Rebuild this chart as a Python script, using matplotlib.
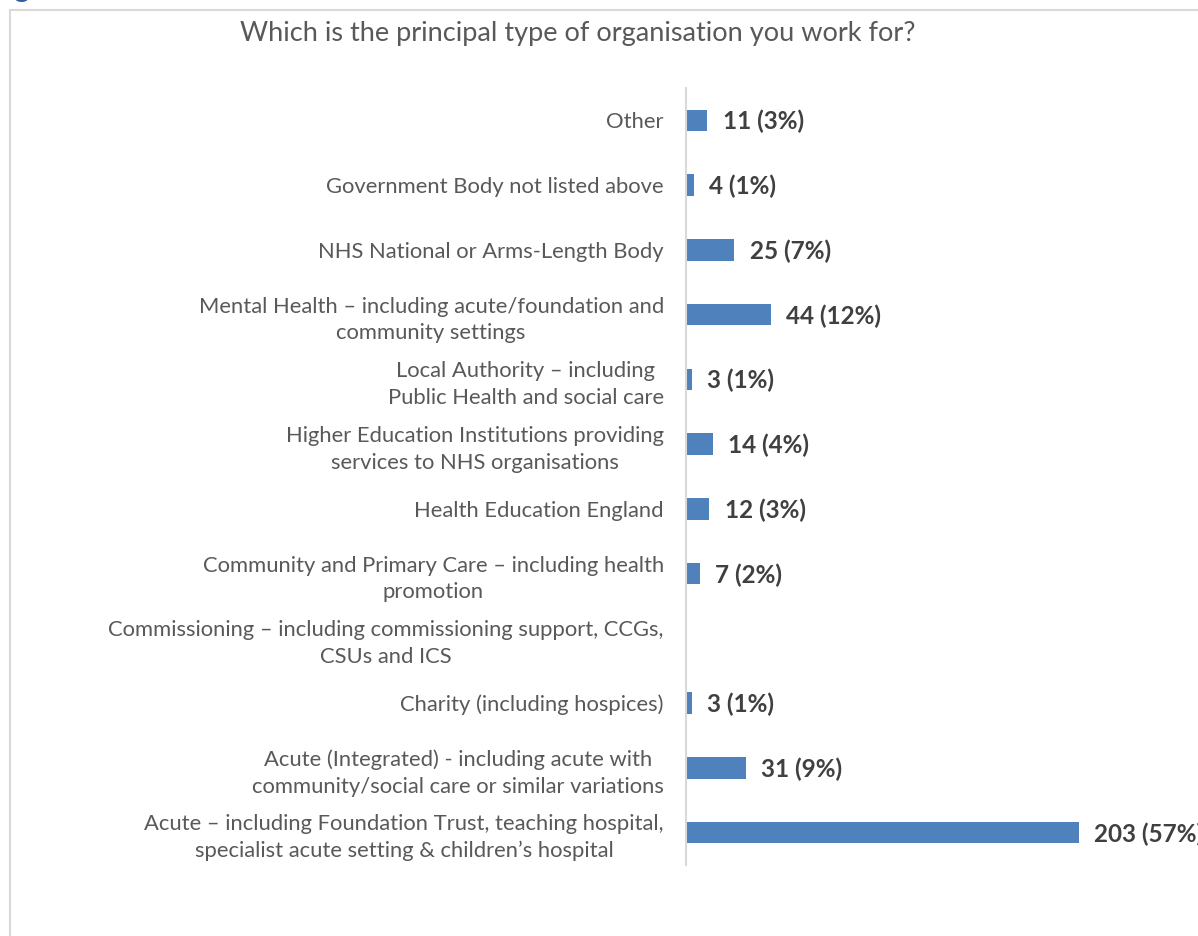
import matplotlib
matplotlib.use("Agg")
import matplotlib.pyplot as plt
from matplotlib.lines import Line2D

categories = [
    "Acute \u2013 including Foundation Trust, teaching hospital,\nspecialist acute setting & children\u2019s hospital",
    "Acute (Integrated) - including acute with\ncommunity/social care or similar variations",
    "Charity (including hospices)",
    "Commissioning \u2013 including commissioning support, CCGs,\nCSUs and ICS",
    "Community and Primary Care \u2013 including health\npromotion",
    "Health Education England",
    "Higher Education Institutions providing\nservices to NHS organisations",
    "Local Authority \u2013 including\nPublic Health and social care",
    "Mental Health \u2013 including acute/foundation and\ncommunity settings",
    "NHS National or Arms-Length Body",
    "Government Body not listed above",
    "Other",
]
counts = [203, 31, 3, 0, 7, 12, 14, 3, 44, 25, 4, 11]
percents = [57, 9, 1, 0, 2, 3, 4, 1, 12, 7, 1, 3]
title = "Which is the principal type of organisation you work for?"

W, H = 1198, 936
fig = plt.figure(figsize=(W / 100, H / 100), dpi=100)
fig.patch.set_facecolor("white")

# outer chart frame (left and top edges visible)
fig.add_artist(Line2D([10 / W, 10 / W], [0, 1 - 10 / H], transform=fig.transFigure,
                      color="#d9d9d9", lw=1.5))
fig.add_artist(Line2D([10 / W, 1], [1 - 10 / H, 1 - 10 / H], transform=fig.transFigure,
                      color="#d9d9d9", lw=1.5))

# clipped heading fragment above the frame
fig.text(14 / W, 1 + 3 / H, "g", color="#2e5e9e", fontsize=22, family="Lato",
         ha="left", va="baseline")

left, right = 686 / W, 1.0
bottom, top = (H - 865) / H, (H - 88) / H
ax = fig.add_axes([left, bottom, right - left, top - bottom])

y = list(range(len(categories)))
ax.barh(y, counts, height=0.33, color="#4f81bd", zorder=2)
ax.set_ylim(-0.5, len(categories) - 0.5)
ax.set_xlim(0, 264.5)

for yi, c, p in zip(y, counts, percents):
    if c > 0:
        ax.annotate(f"{c} ({p}%)", (c, yi), xytext=(11, -1), textcoords="offset points",
                    ha="left", va="center", fontsize=17.5, fontweight="bold",
                    color="#404040", family="Lato", clip_on=False)

ax.set_yticks(y)
ax.set_yticklabels(categories, fontsize=15.8, color="#595959", family="Lato",
                   multialignment="center", linespacing=1.4)
ax.tick_params(axis="y", length=0, pad=16)
ax.set_xticks([])
for s in ["top", "right", "bottom"]:
    ax.spines[s].set_visible(False)
ax.spines["left"].set_color("#d9d9d9")
ax.spines["left"].set_linewidth(1.5)
ax.patch.set_alpha(0)

fig.text(578 / W, 1 - 34 / H, title, ha="center", va="center", fontsize=19.5,
         color="#595959", family="Lato")

fig.savefig("out.png", dpi=100)
